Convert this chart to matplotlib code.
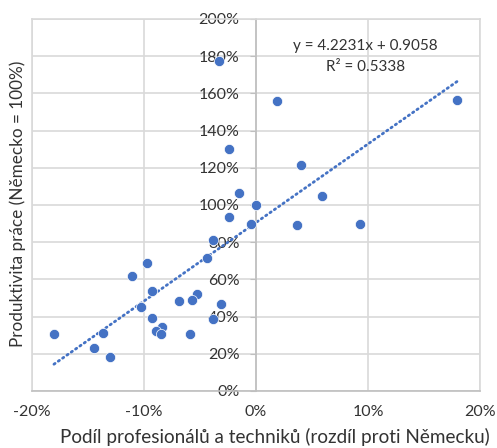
import matplotlib.pyplot as plt
import numpy as np
from matplotlib.ticker import FuncFormatter

plt.rcParams['font.family'] = ['Lato', 'DejaVu Sans']

# podíl profesionálů a techniků, rozdíl proti Německu (%)
podil = [-3.33, -2.38, -1.49, 1.85, 17.98, 4.02, 5.89, 0.0, -2.44, -0.45,
         -3.84, -4.35, -9.70, -11.07, -9.29, -5.30, -5.68, -6.90, -10.27, -3.13,
         -9.29, -3.81, -8.42, -8.93, -8.51, -5.86, -18.04, -13.69, -14.50, -13.04,
         3.69, 9.29]
# produktivita práce, Německo = 100 (%)
produktivita = [177.4, 130.1, 106.6, 156.1, 156.5, 121.5, 105.0, 100.0, 93.7, 89.8,
                81.2, 71.3, 69.0, 62.0, 53.9, 52.0, 48.9, 48.6, 45.3, 46.6,
                39.1, 38.7, 34.2, 32.4, 30.6, 30.6, 30.6, 31.2, 22.9, 18.1,
                89.4, 89.8]

# lineární trend (z rovnice v grafu)
slope = 4.2231
intercept = 0.9058
r2 = 0.5338

x = np.array(podil) / 100
y = np.array(produktivita) / 100

blue = '#4472C4'
grid = '#d9d9d9'
txt = '#333333'

fig = plt.figure(figsize=(4.97, 4.48), dpi=100)
ax = fig.add_axes([32 / 497, 1 - 391 / 448, 448 / 497, 372 / 448])

xt = np.array([x.min(), x.max()])
ax.plot(xt, slope * xt + intercept, color=blue, lw=2.0,
        linestyle=(0, (0.5, 1.4)), dash_capstyle='round', zorder=2)
ax.scatter(x, y, s=54, color=blue, edgecolor='white', linewidth=0.5, zorder=3)

ax.set_xlim(-0.2, 0.2)
ax.set_ylim(0, 2.0)
ax.set_xticks(np.arange(-0.2, 0.201, 0.1))
ax.set_yticks(np.arange(0, 2.01, 0.2))
pct = FuncFormatter(lambda v, p: f'{v * 100:.0f}%')
ax.xaxis.set_major_formatter(pct)
ax.yaxis.set_major_formatter(pct)

ax.grid(True, color=grid, lw=1.2, zorder=0)
ax.set_axisbelow(True)
for s in ['top', 'right', 'bottom']:
    ax.spines[s].set_color(grid)
    ax.spines[s].set_linewidth(1.2)
ax.spines['left'].set_position(('data', 0))
ax.spines['left'].set_color('#bfbfbf')
ax.spines['left'].set_linewidth(1.2)
ax.spines['bottom'].set_color('#bfbfbf')
ax.plot([-0.2, -0.2], [0, 2], color=grid, lw=1.2, clip_on=False, zorder=0)

ax.tick_params(axis='y', length=4, color='#bfbfbf', pad=8, labelsize=11.5,
               labelcolor=txt)
ax.tick_params(axis='x', length=0, pad=10, labelsize=11.5, labelcolor=txt)

ax.text(0.098, 1.855, f'y = {slope}x + {intercept}', ha='center', va='center',
        fontsize=11, color=txt)
ax.text(0.098, 1.74, f'R² = {r2}', ha='center', va='center',
        fontsize=11, color=txt)

fig.text(275 / 497, 1 - 437 / 448, 'Podíl profesionálů a techniků (rozdíl proti Německu)',
         ha='center', va='center', fontsize=13.6, color=txt)
fig.text(18 / 497, 1 - 204 / 448, 'Produktivita práce (Německo = 100%)',
         ha='center', va='center', rotation=90, fontsize=12.3, color=txt)

fig.savefig('out.png', dpi=100)
